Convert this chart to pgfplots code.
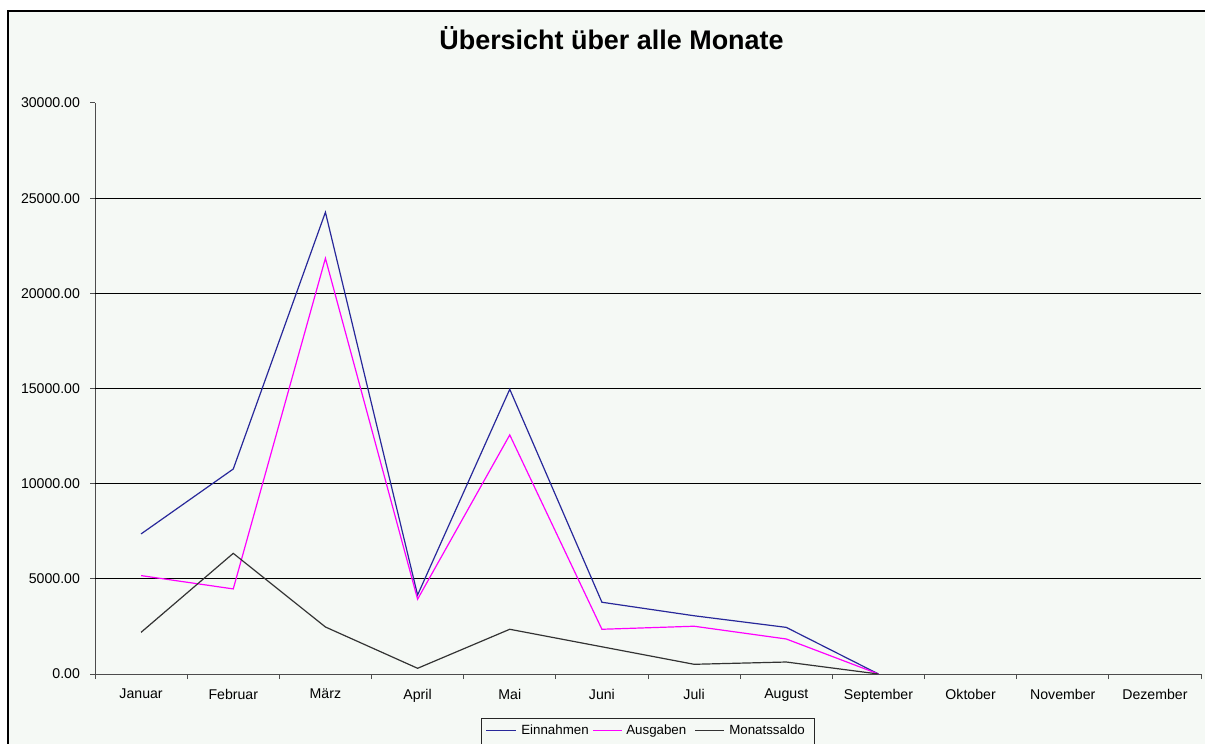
\documentclass[border=0pt]{standalone}
\usepackage{pgfplots}
\pgfplotsset{compat=1.18}
\usepackage{fontspec}
\setmainfont{Liberation Sans}
\definecolor{bg}{HTML}{F5F9F5}
\definecolor{einc}{HTML}{28289A}
\definecolor{ausc}{HTML}{FF00FF}
\definecolor{salc}{HTML}{333333}
\begin{document}
\begin{tikzpicture}[x=0.75pt,y=0.75pt]
\clip (0,0) rectangle (1205,743);
\fill[white] (0,0) rectangle (1205,743);
\fill[bg] (8,-10) rectangle (1220,732);
\draw[black,line width=1.5pt] (8,-10) -- (8,732) -- (1220,732);
\node[anchor=base,font=\bfseries\fontsize{20.2}{24}\selectfont] at (611.5,693.7) {Übersicht über alle Monate};
\begin{axis}[
  scale only axis, width=829.5pt, height=428.25pt,
  anchor=south west, at={(71.25pt,51.75pt)},
  xmin=-0.5, xmax=11.5, ymin=0, ymax=30000,
  axis x line=bottom, axis y line=left,
  axis line style={-, black!70, line width=0.75pt},
  tick align=outside,
  major tick length=3.75pt, minor tick length=3.75pt,
  tick style={black!70, line width=0.75pt},
  xtick={0,...,11},
  xticklabels={Januar,Februar,März,April,Mai,Juni,Juli,August,September,Oktober,November,Dezember},
  major x tick style={draw=none},
  minor xtick={-0.5,0.5,...,11.5},
  ytick={0,5000,...,30000},
  scaled y ticks=false,
  /pgf/number format/assume math mode=true,
  yticklabel style={/pgf/number format/fixed, /pgf/number format/fixed zerofill, /pgf/number format/precision=2, /pgf/number format/1000 sep={}, xshift=-4pt},
  xticklabel style={yshift=-3.8pt},
  tick label style={font=\fontsize{10.6}{13}\selectfont, text=black},
  extra y ticks={5000,10000,15000,20000,25000},
  extra y tick labels={},
  extra y tick style={grid=major, major grid style={black, line width=0.75pt}, major tick length=0pt},
]
\addplot[color=einc, line width=0.9pt] coordinates {(0,7360) (1,10770) (2,24260) (3,4150) (4,14960) (5,3770) (6,3060) (7,2450) (8,0)};
\addplot[color=ausc, line width=0.9pt] coordinates {(0,5170) (1,4470) (2,21840) (3,3930) (4,12560) (5,2350) (6,2510) (7,1840) (8,0)};
\addplot[color=salc, line width=0.9pt] coordinates {(0,2190) (1,6340) (2,2470) (3,300) (4,2350) (5,1430) (6,510) (7,630) (8,0)};
\end{axis}
% legend
\filldraw[fill=bg, draw=black!85, line width=0.75pt] (481,-10) rectangle (814,25);
\draw[einc, line width=0.9pt] (486,12.3) -- (516,12.3);
\node[anchor=base west, inner sep=0pt, font=\fontsize{10}{12}\selectfont] at (521,8.3) {Einnahmen};
\draw[ausc, line width=0.9pt] (593,12.3) -- (622,12.3);
\node[anchor=base west, inner sep=0pt, font=\fontsize{10}{12}\selectfont] at (626,8.3) {Ausgaben};
\draw[salc, line width=0.9pt] (695,12.3) -- (724,12.3);
\node[anchor=base west, inner sep=0pt, font=\fontsize{10}{12}\selectfont] at (729,8.3) {Monatssaldo};
\end{tikzpicture}
\end{document}
